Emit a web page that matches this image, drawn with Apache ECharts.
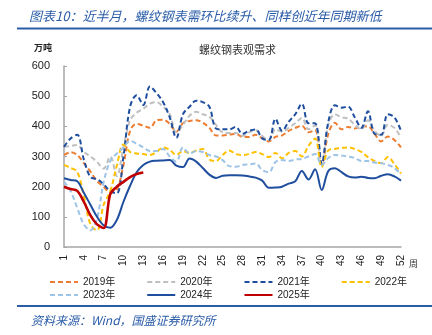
<!DOCTYPE html>
<html>
<head>
<meta charset="utf-8">
<script src="https://cdn.jsdelivr.net/npm/echarts@6/dist/echarts.min.js"></script>
<style>html,body{margin:0;padding:0;background:#fff;}#c{width:432px;height:335px;}</style>
</head>
<body>
<div id="c"></div>
<script>
const weeks = Array.from({length: 52}, (_, i) => String(i + 1));
const yTicks = [0, 100, 200, 300, 400, 500, 600];
const y2019 = [305,314,305,278,250,218,200,180,190,272, 385,408,402,395,420,422,408,382,410,418, 420,412,395,370,370,372,376,365,365,372, 360,350,365,370,385,395,402,380,388,272, 375,412,390,398,393,398,400,375,350,366,355,330];
const y2020 = [332,335,338,315,300,282,260,300,235,330, 420,445,458,475,480,465,440,380,405,435, 448,440,432,405,380,378,378,368,380,388, 368,355,390,382,395,410,428,390,404,275, 405,440,430,425,405,390,420,385,368,405,395,362];
const y2021 = [332,360,372,290,232,225,208,185,178,300, 465,503,471,532,510,480,430,362,440,465, 485,480,465,393,390,390,398,375,385,390, 360,355,425,385,415,440,475,410,410,275, 415,470,462,465,430,395,450,375,372,440,430,385];
const y2022 = [272,262,250,170,75,55,140,185,270,340, 315,310,308,305,315,330,322,305,318,312, 320,325,290,285,305,320,308,305,308,315, 308,298,312,294,312,318,300,335,360,265, 320,325,328,330,325,315,298,285,278,298,275,244];
const y2023 = [217,185,130,75,55,95,215,285,310,330, 352,342,330,318,318,325,300,283,330,310, 318,315,305,300,288,268,266,272,274,277, 255,248,282,288,285,290,292,300,308,272, 295,305,303,300,295,285,285,280,278,272,262,240];
const y2024 = [228,222,218,180,140,100,72,64,90,150, 203,248,272,283,286,287,288,270,265,293, 283,262,240,229,236,238,238,237,234,230, 220,196,197,200,210,218,252,224,258,189, 252,261,248,234,230,233,229,228,236,241,234,220];
const y2025 = [200,192,186,150,105,75,63,175,200,216,232,242,247];

const FONT = '"Liberation Sans", "Noto Sans CJK SC", sans-serif';
const CJK = '"Noto Sans CJK SC", "Liberation Sans", sans-serif';
const BLUE = '#2A5CA8';

function mk(name, data, color, type, width) {
  return {
    name, type: 'line', data, smooth: 0.35, symbol: 'none', showSymbol: false,
    lineStyle: {color, width, type: type === 'dashed' ? [5, 3] : 'solid'},
    itemStyle: {color},
    z: name === '2025年' ? 10 : 2
  };
}

const legendCommon = {
  left: 44, itemWidth: 28, itemHeight: 10, itemGap: 31,
  itemStyle: {opacity: 0},
  textStyle: {fontSize: 10, color: '#222', fontFamily: FONT}
};

const chart = echarts.init(document.getElementById('c'), null, {renderer: 'canvas'});
chart.setOption({
  animation: false,
  backgroundColor: '#fff',
  textStyle: {fontFamily: FONT},
  title: [
    {text: '图表10：近半月，螺纹钢表需环比续升、同样创近年同期新低', left: 24, top: 5,
     textStyle: {fontSize: 13, fontStyle: 'italic', fontWeight: 'normal', color: BLUE, fontFamily: CJK}},
    {text: '螺纹钢表观需求', left: 194, top: 39,
     textStyle: {fontSize: 11, fontWeight: 'normal', color: '#333', fontFamily: CJK}},
    {text: '资料来源：Wind，国盛证券研究所', left: 26, top: 309,
     textStyle: {fontSize: 12, fontStyle: 'italic', fontWeight: 'normal', color: BLUE, fontFamily: CJK}}
  ],
  graphic: [
    {type: 'rect', shape: {x: 17, y: 27.5, width: 415, height: 2}, style: {fill: BLUE}},
    {type: 'rect', shape: {x: 17, y: 305, width: 415, height: 2}, style: {fill: BLUE}}
  ],
  legend: [
    Object.assign({data: ['2019年', '2020年', '2021年', '2022年'], top: 272}, legendCommon),
    Object.assign({data: ['2023年', '2024年', '2025年'], top: 285}, legendCommon)
  ],
  grid: {left: 64, right: 31, top: 66, bottom: 88, containLabel: false},
  xAxis: {
    type: 'category', data: weeks, boundaryGap: false,
    name: '周', nameLocation: 'end', nameGap: 4,
    nameTextStyle: {fontSize: 9, color: '#333', verticalAlign: 'top', padding: [12, 0, 0, 0], fontFamily: CJK},
    axisLine: {lineStyle: {color: '#A6A6A6', width: 1.5}},
    axisTick: {show: false},
    axisLabel: {interval: 2, rotate: 90, fontSize: 10, color: '#222', margin: 8, fontFamily: FONT},
    splitLine: {show: false}
  },
  yAxis: {
    type: 'value', min: yTicks[0], max: yTicks[yTicks.length - 1], interval: 100,
    name: '万吨', nameLocation: 'end', nameGap: 14,
    nameTextStyle: {fontSize: 9, fontWeight: 'bold', color: '#222', align: 'right', padding: [0, 12, 0, 0], fontFamily: CJK},
    axisLine: {show: true, lineStyle: {color: '#A6A6A6', width: 1.5}},
    axisTick: {show: true, inside: true, length: 3, lineStyle: {color: '#A6A6A6'}},
    axisLabel: {fontSize: 11, color: '#222', margin: 14, fontFamily: FONT},
    splitLine: {show: false}
  },
  series: [
    mk('2019年', y2019, '#ED7D31', 'dashed', 2),
    mk('2020年', y2020, '#BFBFBF', 'dashed', 2),
    mk('2021年', y2021, '#1F4E9E', 'dashed', 2),
    mk('2022年', y2022, '#FFC000', 'dashed', 2),
    mk('2023年', y2023, '#9DC3E6', 'dashed', 2),
    mk('2024年', y2024, '#1F4E9E', 'solid', 2),
    mk('2025年', y2025, '#C00000', 'solid', 2.6)
  ]
});
</script>
</body>
</html>
